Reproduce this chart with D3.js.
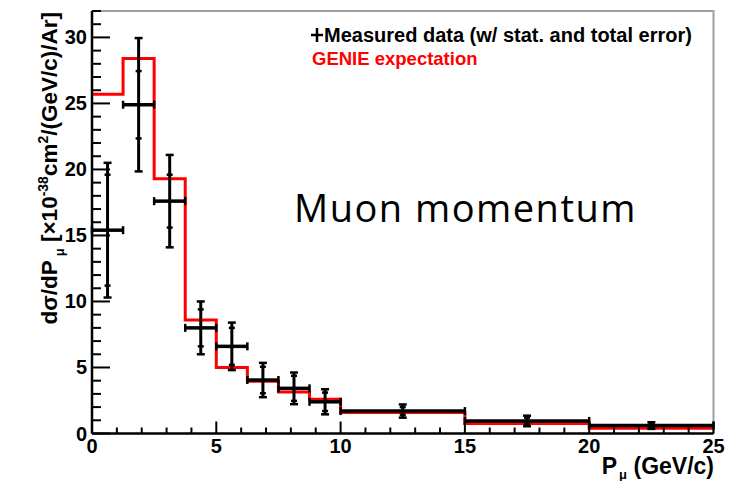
<!DOCTYPE html>
<html lang="en">
  <head>
    <meta charset="UTF-8" />
    <title>Muon momentum</title>
    <script src="https://cdn.jsdelivr.net/npm/d3@7"></script>
    <style>
      body { margin: 0; background: #fff; }
      text { font-family: "Liberation Sans", Arial, sans-serif; font-weight: bold; }
    </style>
  </head>
  <body>
    <div id="chart"></div>
    <script>
      // bin edges of the muon momentum histogram (GeV/c)
      const binEdges = [0, 1.25, 2.5, 3.75, 5, 6.25, 7.5, 8.75, 10, 15, 20, 25];
      // GENIE expectation per bin
      const genie = [25.7, 28.4, 19.3, 8.6, 5.0, 3.95, 3.15, 2.6, 1.6, 0.75, 0.4];
      // measured data + errors
      const measured = [15.4, 24.9, 17.6, 8.0, 6.6, 4.05, 3.42, 2.4, 1.7, 0.95, 0.6];
      const statErr = [4.2, 2.55, 2.0, 1.4, 1.4, 1.0, 0.95, 0.7, 0.3, 0.25, 0.15];
      const totalErr = [5.1, 5.05, 3.5, 2.0, 1.8, 1.3, 1.2, 0.95, 0.5, 0.4, 0.25];
      const xTicks = [0, 5, 10, 15, 20, 25];
      const yTicks = [0, 5, 10, 15, 20, 25, 30];

      const W = 731, H = 481;
      const svg = d3.select("#chart").append("svg")
        .attr("width", W).attr("height", H);

      const x = d3.scaleLinear().domain([0, 25]).range([92, 713.5]);
      const y = d3.scaleLinear().domain([0, 32]).range([433.5, 11]);

      // frame (top / right in grey)
      svg.append("path")
        .attr("d", `M${x(0)},${y(32)}H${x(25)}V${y(0)}`)
        .attr("fill", "none").attr("stroke", "#a0a0a0").attr("stroke-width", 2);

      // GENIE histogram
      const steps = binEdges.map((e, i) => [e, genie[Math.min(i, genie.length - 1)]]);
      const line = d3.line().x((d) => x(d[0])).y((d) => y(d[1])).curve(d3.curveStepAfter);
      svg.append("path").datum(steps)
        .attr("d", line)
        .attr("fill", "none").attr("stroke", "#ff0000").attr("stroke-width", 3);

      // measured data points with stat and total error
      const pts = measured.map((v, i) => ({
        lo: binEdges[i], hi: binEdges[i + 1], c: (binEdges[i] + binEdges[i + 1]) / 2,
        v, s: statErr[i], t: totalErr[i],
      }));
      const g = svg.append("g").attr("stroke", "#000").attr("fill", "none");
      pts.forEach((d) => {
        const cx = x(d.c), cy = y(d.v);
        // horizontal bar with end caps
        g.append("line").attr("x1", x(d.lo)).attr("x2", x(d.hi)).attr("y1", cy).attr("y2", cy).attr("stroke-width", 3.5);
        g.append("line").attr("x1", x(d.lo)).attr("x2", x(d.lo)).attr("y1", cy - 4).attr("y2", cy + 4).attr("stroke-width", 2.5);
        g.append("line").attr("x1", x(d.hi)).attr("x2", x(d.hi)).attr("y1", cy - 4).attr("y2", cy + 4).attr("stroke-width", 2.5);
        // vertical bar (total)
        g.append("line").attr("x1", cx).attr("x2", cx).attr("y1", y(d.v - d.t)).attr("y2", y(d.v + d.t)).attr("stroke-width", 3);
        [d.v - d.t, d.v + d.t].forEach((e) => {
          g.append("line").attr("x1", cx - 4).attr("x2", cx + 4).attr("y1", y(e)).attr("y2", y(e)).attr("stroke-width", 2.5);
        });
        [d.v - d.s, d.v + d.s].forEach((e) => {
          g.append("line").attr("x1", cx - 3).attr("x2", cx + 3).attr("y1", y(e)).attr("y2", y(e)).attr("stroke-width", 2.5);
        });
      });

      // axes with ROOT-style inward ticks
      const yAxis = svg.append("g").attr("stroke", "#000");
      yAxis.append("line").attr("x1", x(0)).attr("x2", x(0)).attr("y1", y(0)).attr("y2", y(32)).attr("stroke-width", 2.5);
      d3.range(0, 33).forEach((v) => {
        const len = v % 5 === 0 ? 18 : 9;
        yAxis.append("line").attr("x1", x(0)).attr("x2", x(0) + len).attr("y1", y(v)).attr("y2", y(v)).attr("stroke-width", 2);
      });
      const xAxis = svg.append("g").attr("stroke", "#000");
      xAxis.append("line").attr("x1", x(0)).attr("x2", x(25)).attr("y1", y(0)).attr("y2", y(0)).attr("stroke-width", 2.5);
      d3.range(0, 26).forEach((v) => {
        const len = v % 5 === 0 ? 12 : 6;
        xAxis.append("line").attr("x1", x(v)).attr("x2", x(v)).attr("y1", y(0)).attr("y2", y(0) - len).attr("stroke-width", 2);
      });

      svg.selectAll(".ylab").data(yTicks).enter().append("text")
        .attr("x", 87).attr("y", (d) => y(d) + 7)
        .attr("text-anchor", "end").attr("font-size", 20).text((d) => d);
      svg.selectAll(".xlab").data(xTicks).enter().append("text")
        .attr("x", (d) => x(d)).attr("y", 453)
        .attr("text-anchor", "middle").attr("font-size", 20).text((d) => d);

      // axis titles
      const xt = svg.append("text").attr("x", 714).attr("y", 474)
        .attr("text-anchor", "end").attr("font-size", 23);
      xt.append("tspan").text("P");
      xt.append("tspan").attr("dy", 5).attr("dx", 2).attr("font-size", 13).text("\u03bc");
      xt.append("tspan").attr("dy", -5).text(" (GeV/c)");

      const yt = svg.append("text").attr("transform", "translate(57,12) rotate(-90)")
        .attr("text-anchor", "end").attr("font-size", 22.5);
      yt.append("tspan").text("d\u03c3/dP");
      yt.append("tspan").attr("dy", 7).attr("dx", 4).attr("font-size", 13).text("\u03bc");
      yt.append("tspan").attr("dy", -7).text(" [\u00d710");
      yt.append("tspan").attr("dy", -9).attr("font-size", 14).text("-38");
      yt.append("tspan").attr("dy", 9).text("cm");
      yt.append("tspan").attr("dy", -9).attr("font-size", 14).text("2");
      yt.append("tspan").attr("dy", 9).text("/(GeV/c)/Ar]");

      // legend
      const lx = 311;
      svg.append("line").attr("x1", lx).attr("x2", lx + 12).attr("y1", 35).attr("y2", 35).attr("stroke", "#000").attr("stroke-width", 2.5);
      svg.append("line").attr("x1", lx + 6).attr("x2", lx + 6).attr("y1", 28).attr("y2", 42).attr("stroke", "#000").attr("stroke-width", 2.5);
      svg.append("text").attr("x", lx + 13).attr("y", 42).attr("font-size", 20)
        .text("Measured data (w/ stat. and total error)");
      svg.append("text").attr("x", lx + 1).attr("y", 65).attr("font-size", 18.5).attr("fill", "#ff0000")
        .text("GENIE expectation");

      // slide annotation
      svg.append("text").attr("x", 294).attr("y", 222)
        .style("font-family", "'Open Sans', Lato, sans-serif").style("font-weight", "normal")
        .style("letter-spacing", "1.5px")
        .attr("font-size", 38).text("Muon momentum");
    </script>
  </body>
</html>
